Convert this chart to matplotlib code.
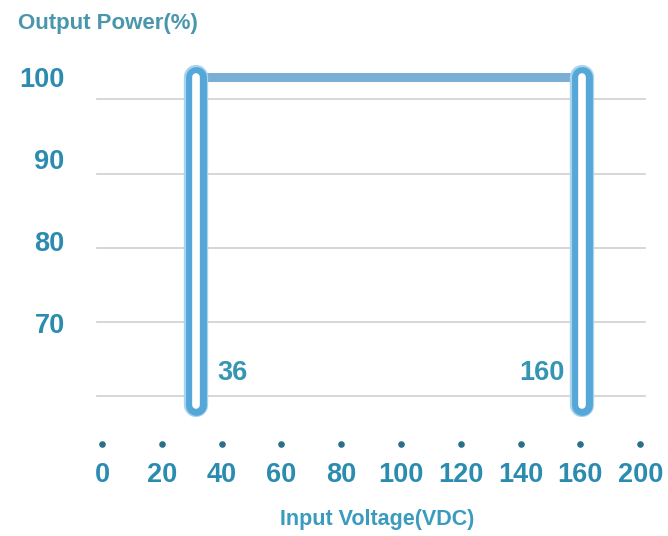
import matplotlib.pyplot as plt

# data
volt_ticks = ["0", "20", "40", "60", "80", "100", "120", "140", "160", "200"]
power_ticks = [100, 90, 80, 70]
grid_levels = [97.3, 88.2, 79.1, 70.1, 61.1]
bar_volts = [31.5, 160.5]
bar_labels = ["36", "160"]
power_top = 100
power_bottom = 60

num_col = "#2b8cb0"
line_col = "#55a7d8"

fig = plt.figure(figsize=(6.68, 5.36), dpi=100)
W, H = 668, 536
# axes in pixel terms: left 80, right 660, top 50, bottom 445
ax = fig.add_axes([80 / W, 1 - 445 / H, 580 / W, 395 / H])
ax.set_xlim(-0.368, 9.331)
ax.set_ylim(55.12, 103.29)
for s in ax.spines.values():
    s.set_visible(False)

# grid lines
for g in grid_levels:
    ax.plot([-0.08, 9.08], [g, g], color="#cfcfcf", lw=1.2, zorder=1)

# the operating window
lx = bar_volts[0] / 20
rx = bar_volts[1] / 20
ax.plot([lx, rx], [power_top, power_top], color="#7aaed4", lw=6.5,
        solid_capstyle="butt", zorder=2)
for x in (lx, rx):
    ax.plot([x, x], [power_bottom, power_top], color="#a9d3ee", lw=17.5,
            solid_capstyle="round", zorder=3)
    ax.plot([x, x], [power_bottom, power_top], color=line_col, lw=15,
            solid_capstyle="round", zorder=3)
    ax.plot([x, x], [power_bottom, power_top], color="white", lw=5.5,
            solid_capstyle="round", zorder=4)

lab_kw = dict(textcoords="offset pixels", va="center", fontsize=19.5,
              fontweight="bold", color="#3596b3", family="Liberation Sans")
ax.annotate(bar_labels[0], (lx, power_bottom), xytext=(21, 32), ha="left", **lab_kw)
ax.annotate(bar_labels[1], (rx, power_bottom), xytext=(-17, 32), ha="right", **lab_kw)

# dots above x tick labels
xs = list(range(len(volt_ticks)))
ax.scatter(xs, [55.3] * len(xs), s=14, color="#2a6f8a", zorder=5, clip_on=False)

ax.set_xticks(xs)
ax.set_xticklabels(volt_ticks)
ax.set_yticks(power_ticks)
ax.set_yticklabels([str(p) for p in power_ticks])
ax.tick_params(axis="x", length=0, pad=12.5, labelsize=19.5, labelcolor=num_col)
ax.tick_params(axis="y", length=0, pad=11, labelsize=19.5, labelcolor=num_col)
for t in ax.get_xticklabels() + ax.get_yticklabels():
    t.set_family("Liberation Sans")
    t.set_fontweight("bold")

fig.text(18 / W, 1 - 24 / H, "Output Power(%)", fontsize=16, fontweight="bold",
         color="#4a97ad", va="center", ha="left", family="Liberation Sans")
fig.text(377 / W, 1 - 519 / H, "Input Voltage(VDC)", fontsize=15.5,
         fontweight="bold", color="#3a9bbf", va="center", ha="center",
         family="Liberation Sans")

fig.savefig("out.png", dpi=100, facecolor="white")
